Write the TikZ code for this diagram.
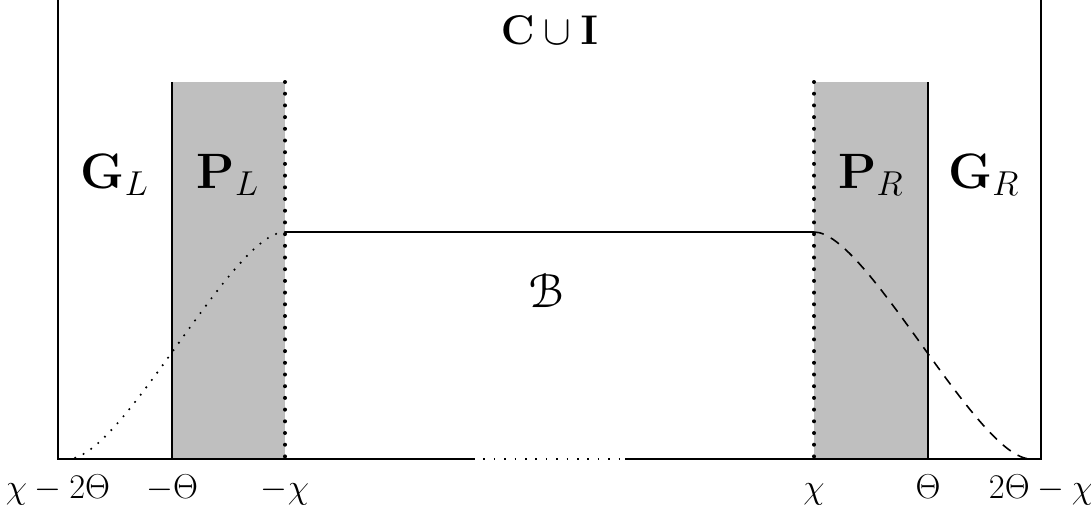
\documentclass[tikz,border=0pt]{standalone}
\usepackage{eucal}
\begin{document}
\begin{tikzpicture}[x=0.5pt,y=-0.5pt,
  frame/.style={line width=1pt},
  strip/.style={fill=black!25,draw=none},
  dotv/.style={line width=2pt,dash pattern=on 0pt off 5.85pt,line cap=round},
  dotc/.style={line width=1.2pt,dash pattern=on 0pt off 4.6pt,line cap=round},
  dotb/.style={line width=1pt,dash pattern=on 0.8pt off 4.4pt},
  dashc/.style={line width=0.8pt,dash pattern=on 5pt off 4pt},
  biglab/.style={font=\fontsize{23}{26}\selectfont,anchor=base,inner sep=0pt},
  axlab/.style={font=\fontsize{17}{20}\selectfont,anchor=base,inner sep=0pt}]
\useasboundingbox (0,0) rectangle (1091,510);
% key coordinates
\coordinate (TL) at (58,0);
\coordinate (BL) at (58,459);
\coordinate (TR) at (1041,0);
\coordinate (BR) at (1041,459);
\coordinate (LS1) at (172,82);
\coordinate (LS1b) at (172,459);
\coordinate (LS2) at (285,82);
\coordinate (LS2b) at (285,459);
\coordinate (RS1) at (814,82);
\coordinate (RS1b) at (814,459);
\coordinate (RS2) at (928,82);
\coordinate (RS2b) at (928,459);
\coordinate (PL) at (285,232);
\coordinate (PR) at (814,232);
\coordinate (CL) at (68,459);
\coordinate (CR) at (1031,459);
\coordinate (D1) at (473,459);
\coordinate (D2) at (625,459);
% strips
\fill[strip] (LS1) rectangle (LS2b);
\fill[strip] (RS1) rectangle (RS2b);
% frame
\draw[frame] (TL) -- (BL) -- (D1);
\draw[frame] (D2) -- (BR) -- (TR);
\draw[dotb] (D1) -- (D2);
% strip edges
\draw[frame] (LS1) -- (LS1b);
\draw[frame] (RS2) -- (RS2b);
\draw[dotv] (LS2) -- (LS2b);
\draw[dotv] (RS1) -- (RS1b);
% plateau and curves
\draw[frame] (PL) -- (PR);
\draw[dotc] (PL) .. controls (232,232) and (122,459) .. (CL);
\draw[dashc] (PR) .. controls (867,232) and (977,459) .. (CR);
% labels
\node[biglab,font=\fontsize{22}{25}\selectfont] (ci) at (549.5,44) {$\mathbf{C}\cup\mathbf{I}$};
\node[biglab] (gl) at (115,188) {$\mathbf{G}_L$};
\node[biglab] (pl) at (228,188) {$\mathbf{P}_L$};
\node[biglab] (pr) at (871,188) {$\mathbf{P}_R$};
\node[biglab] (gr) at (984,188) {$\mathbf{G}_R$};
\node[biglab,font=\fontsize{24}{27}\selectfont] (b) at (547,307) {$\mathcal{B}$};
\node[axlab] (a1) at (58,498) {$\chi-2\Theta$};
\node[axlab] (a2) at (172,498) {$-\Theta$};
\node[axlab] (a3) at (285,498) {$-\chi$};
\node[axlab] (a4) at (814,498) {$\chi$};
\node[axlab] (a5) at (928,498) {$\Theta$};
\node[axlab] (a6) at (1041,498) {$2\Theta-\chi$};
\end{tikzpicture}
\end{document}
